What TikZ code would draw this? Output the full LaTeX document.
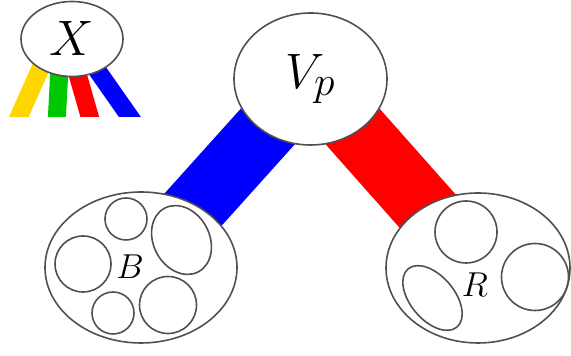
\documentclass[tikz,border=0pt]{standalone}
\usepackage{tikz}
\usetikzlibrary{shapes.geometric, backgrounds}
\definecolor{baryellow}{RGB}{255,215,0}
\definecolor{bargreen}{RGB}{0,200,0}
\definecolor{barred}{RGB}{255,0,0}
\definecolor{barblue}{RGB}{0,0,255}
\definecolor{edgegray}{RGB}{80,80,80}

\begin{document}
\begin{tikzpicture}[
    x=0.5pt, y=0.5pt,
    bignode/.style={ellipse, draw=edgegray, fill=white, line width=0.8pt, inner sep=0pt},
    part/.style={ellipse, draw=edgegray, line width=0.8pt, inner sep=0pt},
    band/.style={line width=32pt},
    ray/.style={line width=9pt}
]
    \useasboundingbox (0,0) rectangle (571,356);

    \node[bignode, minimum width=51pt, minimum height=37.5pt, font=\Huge] (x) at (72,317) {$X$};
    \node[bignode, minimum width=76.5pt, minimum height=66pt, font=\Huge] (vp) at (310.5,277) {$V_p$};
    \node[bignode, minimum width=96pt, minimum height=75.5pt] (b) at (141,88.5) {};
    \node[bignode, minimum width=92pt, minimum height=75pt] (r) at (478,88) {};

    % parts of B
    \node[part, minimum size=21pt] (b1) at (126,137) {};
    \node[part, minimum width=36pt, minimum height=28pt, rotate=-62] (b2) at (181.5,116) {};
    \node[part, minimum size=28pt] (b3) at (83,92) {};
    \node[part, minimum size=21pt] (b4) at (113,43) {};
    \node[part, minimum size=28.5pt] (b5) at (168,51) {};
    \node[font=\LARGE] (blab) at (130,89) {$B$};

    % parts of R
    \node[part, minimum size=31pt] (r1) at (466,124) {};
    \node[part, minimum size=33.5pt] (r2) at (535,79) {};
    \node[part, minimum width=38pt, minimum height=22pt, rotate=-50] (r3) at (432.5,58) {};
    \node[font=\LARGE] (rlab) at (475,71) {$R$};

    \coordinate (fan) at (62,336);

    \begin{scope}[on background layer]
        \draw[band, barblue] (vp.center) -- (b.center);
        \draw[band, barred] (vp.center) -- (r.center);
        \clip (0,239) rectangle (200,356);
        \draw[ray, baryellow] (fan) -- ++(-114:140);
        \draw[ray, bargreen] (fan) -- ++(-93:140);
        \draw[ray, barred] (fan) -- ++(-74:140);
        \draw[ray, barblue] (fan) -- ++(-55:140);
    \end{scope}
\end{tikzpicture}
\end{document}
